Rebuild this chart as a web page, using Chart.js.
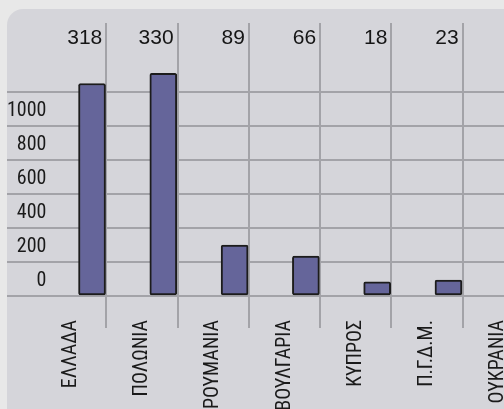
<!DOCTYPE html>
<html>
<head>
<meta charset="utf-8">
<style>
    html, body { margin:0; padding:0; width:504px; height:409px; overflow:hidden; background:#e8e8e8; }
    #panel { position:absolute; left:7px; top:9px; width:600px; height:460px; background:#d5d5da; border-top-left-radius:16px; }
    #wrap { position:absolute; left:0; top:0; width:545px; height:409px; }
</style>
</head>
<body>
<div id="panel"></div>
<div id="wrap"><canvas id="myChart"></canvas></div>

<script src="https://cdn.jsdelivr.net/npm/chart.js@4.4.0/dist/chart.umd.min.js"></script>
<script>

    const categories = ['ΕΛΛΑΔΑ', 'ΠΟΛΩΝΙΑ', 'ΡΟΥΜΑΝΙΑ', 'ΒΟΥΛΓΑΡΙΑ', 'ΚΥΠΡΟΣ', 'Π.Γ.Δ.Μ.', 'ΟΥΚΡΑΝΙΑ'];
    const barValues = [1250, 1310, 300, 235, 84, 94, 153];
    const topValues = [318, 330, 89, 66, 18, 23, 40];
    const yTicks = [0, 200, 400, 600, 800, 1000, 1200];
    const yLabelled = [0, 200, 400, 600, 800, 1000];

    const narrow = '"Roboto Condensed", Roboto, "Liberation Sans", sans-serif';
    const gridColor = '#a3a3a8';

    // numbers written above each column, right against the separator
    const topNumbers = {
        id: 'topNumbers',
        afterDraw: (chart) => {
            const {ctx} = chart;
            const xs = chart.scales.x;
            const w = xs.width / categories.length;
            ctx.save();
            ctx.font = '21px "Liberation Sans", Arial, sans-serif';
            ctx.fillStyle = '#151515';
            ctx.textAlign = 'right';
            ctx.textBaseline = 'middle';
            for (let i = 0; i < topValues.length; i++) {
                ctx.fillText(String(topValues[i]), xs.getPixelForValue(i) + w / 2 - 4, 38);
            }
            ctx.restore();
        }
    };

    const chart = new Chart(document.getElementById('myChart'), {
        type: 'bar',
        plugins: [topNumbers],
        data: {
            labels: categories,
            datasets: [{
                data: barValues.map((v, i) => ({x: i, y: v})),
                xAxisID: 'xb',
                backgroundColor: '#65659a',
                borderColor: '#1c1c1c',
                borderWidth: 2,
                borderRadius: 2,
                borderSkipped: false,
                barThickness: 27
            }]
        },
        options: {
            responsive: true,
            maintainAspectRatio: false,
            animation: false,
            layout: { padding: { left: 7, top: 23, right: 11, bottom: 0 } },
            plugins: {
                legend: { display: false },
                tooltip: { enabled: false }
            },
            scales: {
                x: {
                    type: 'category',
                    labels: categories,
                    offset: true,
                    border: { display: false },
                    grid: {
                        offset: true,
                        lineWidth: 2,
                        tickLength: 32,
                        color: (c) => c.index === 0 ? 'rgba(0,0,0,0)' : gridColor
                    },
                    ticks: {
                        autoSkip: false,
                        minRotation: 90,
                        maxRotation: 90,
                        padding: -8,
                        color: '#1a1a1a',
                        font: { family: narrow, size: 20 }
                    },
                    afterFit: (s) => { s.height = 113; }
                },
                // bars sit on their own axis so they hug the right side of each column
                xb: {
                    type: 'linear',
                    display: false,
                    offset: false,
                    min: -0.8,
                    max: 6.2
                },
                y: {
                    min: 0,
                    max: 1606,
                    border: { display: false },
                    grid: { color: gridColor, lineWidth: 2, tickLength: 28 },
                    afterBuildTicks: (s) => { s.ticks = yTicks.map(v => ({value: v})); },
                    afterFit: (s) => { s.width = 28; },
                    ticks: {
                        mirror: true,
                        crossAlign: 'far',
                        padding: -28,
                        labelOffset: -15,
                        color: '#1a1a1a',
                        font: { family: narrow, size: 20 },
                        callback: (v) => yLabelled.includes(v) ? String(v) : ''
                    }
                }
            }
        }
    });
</script>
</body>
</html>
